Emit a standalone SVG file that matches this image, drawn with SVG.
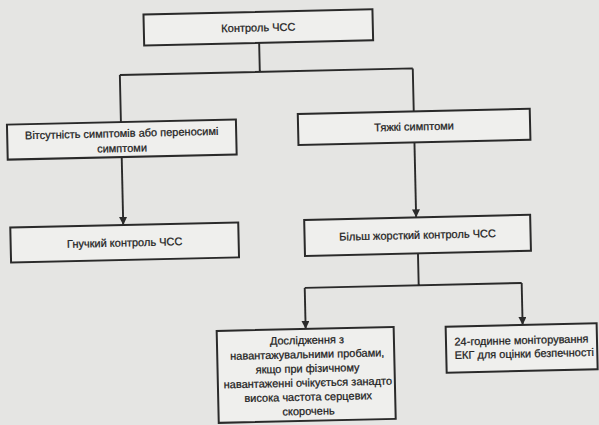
<svg xmlns="http://www.w3.org/2000/svg" width="599" height="425" viewBox="0 0 599 425">
  <defs>
    <marker id="arrow" viewBox="0 0 10 10" refX="10" refY="5" markerWidth="8" markerHeight="8" markerUnits="userSpaceOnUse" orient="auto">
      <path d="M0,0 L10,5 L0,10 Z" fill="#2b2b2b"/>
    </marker>
    <style>
      .box { fill: #efefed; stroke: #2a2a2a; stroke-width: 2; }
      .lbl { font-family: "Liberation Sans", Arial, sans-serif; font-size: 11px; fill: #222; stroke: #222; stroke-width: 0.25; text-anchor: middle; }
      .wire { fill: none; stroke: #2a2a2a; stroke-width: 1.9; }
      .arr { marker-end: url(#arrow); }
    </style>
  </defs>

  <!-- paper -->
  <rect x="0" y="0" width="599" height="425" fill="#e5e5e3"/>

  <!-- the whole chart sits slightly tilted on the page -->
  <g transform="rotate(-1.3 300 212)">
    <g id="connectors">
      <!-- top split -->
      <path class="wire" d="M263,42 V71 M123,71 H416 M123,71 V118 M416,71 V114"/>
      <!-- down to the two strategies -->
      <path class="wire arr" d="M123,153 V221"/>
      <path class="wire arr" d="M416,145 V220"/>
      <!-- bottom split -->
      <path class="wire" d="M417,256 V288 M303,288 H520"/>
      <path class="wire arr" d="M303,288 V329"/>
      <path class="wire arr" d="M520,288 V330"/>
    </g>

    <g id="hr-control">
      <rect class="box" x="148" y="11" width="229" height="31"/>
      <text class="lbl" x="262.5" y="30.5">Контроль ЧСС</text>
    </g>

    <g id="mild-symptoms">
      <rect class="box" x="9" y="118" width="229" height="35"/>
      <text class="lbl" x="123.5" y="133">Вітсутність симптомів або переносимі</text>
      <text class="lbl" x="123.5" y="148">симптоми</text>
    </g>

    <g id="severe-symptoms">
      <rect class="box" x="300" y="114" width="232" height="31"/>
      <text class="lbl" x="416" y="133">Тяжкі симптоми</text>
    </g>

    <g id="lenient-control">
      <rect class="box" x="10" y="221" width="228" height="35"/>
      <text class="lbl" x="124" y="242.5">Гнучкий контроль ЧСС</text>
    </g>

    <g id="strict-control">
      <rect class="box" x="304" y="220" width="226" height="36"/>
      <text class="lbl" x="417" y="241.5">Більш жорсткий контроль ЧСС</text>
    </g>

    <g id="exercise-test">
      <rect class="box" x="214" y="329" width="177" height="92"/>
      <text class="lbl" x="304" y="344">Дослідження з</text>
      <text class="lbl" x="304" y="358.2">навантажувальними пробами,</text>
      <text class="lbl" x="304" y="372.4">якщо при фізичному</text>
      <text class="lbl" x="304" y="386.6">навантаженні очікується занадто</text>
      <text class="lbl" x="304" y="400.8">висока частота серцевих</text>
      <text class="lbl" x="304" y="415">скорочень</text>
    </g>

    <g id="holter">
      <rect class="box" x="443" y="330" width="151" height="46"/>
      <text class="lbl" x="518.5" y="349">24-годинне моніторування</text>
      <text class="lbl" x="521" y="362.5">ЕКГ для оцінки безпечності</text>
    </g>
  </g>
</svg>
